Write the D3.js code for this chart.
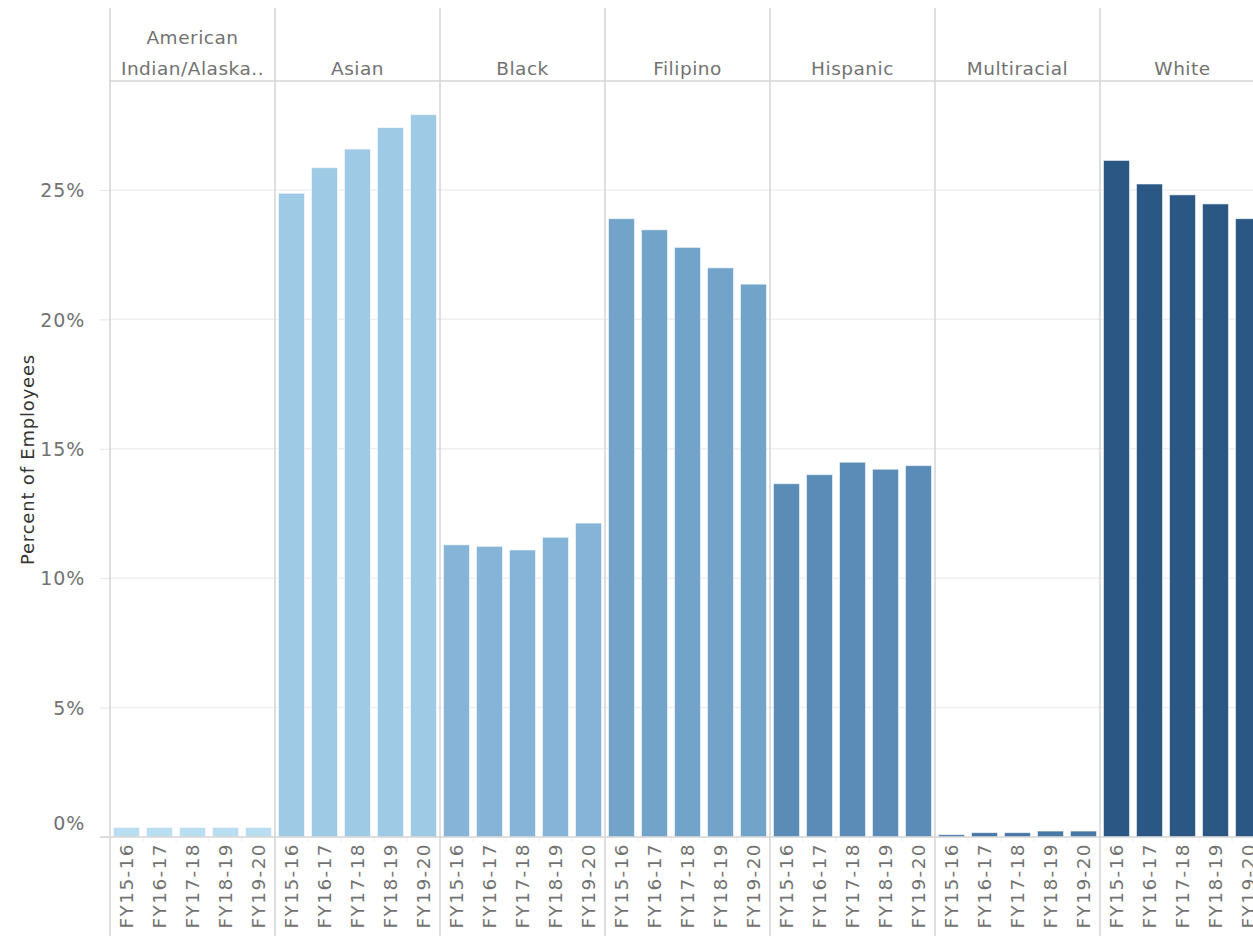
<!DOCTYPE html>
<html>
<head>
<meta charset="utf-8">
<script src="https://cdn.jsdelivr.net/npm/d3@7"></script>
<style>
	body { margin: 0; background: #fff; }
	svg { display: block; font-family: "DejaVu Sans", sans-serif; }
</style>
</head>
<body>
<svg width="1253" height="936"></svg>
<script>
// data (percent of employees)
const races = ["American Indian/Alaska..", "Asian", "Black", "Filipino", "Hispanic", "Multiracial", "White"];
const headerLines = [["American", "Indian/Alaska.."], ["Asian"], ["Black"], ["Filipino"], ["Hispanic"], ["Multiracial"], ["White"]];
const years = ["FY15-16", "FY16-17", "FY17-18", "FY18-19", "FY19-20"];

const americanIndian = [0.37, 0.37, 0.37, 0.37, 0.37];
const asian = [24.87, 25.86, 26.58, 27.41, 27.91];
const black = [11.29, 11.23, 11.09, 11.58, 12.13];
const filipino = [23.89, 23.46, 22.78, 21.99, 21.36];
const hispanic = [13.65, 14.0, 14.48, 14.21, 14.35];
const multiracial = [0.09, 0.17, 0.17, 0.23, 0.23];
const white = [26.14, 25.23, 24.81, 24.46, 23.89];

const yTicks = [0, 5, 10, 15, 20, 25];
const kleuren = ["#b9ddf1", "#9fcae6", "#85b4d8", "#72a3c8", "#5b8cb8", "#4878a6", "#2a5783"];

const series = [americanIndian, asian, black, filipino, hispanic, multiracial, white];

const svg = d3.select("svg");

const left = 110, panelW = 165;
const headerTop = 8, headerBottom = 81;
const plotTop = 82, plotBottom = 837;
const lijnKleur = "#d4d4d4";
const tekstKleur = "#727272";

const x0 = d3.scaleBand().domain(races).range([left, left + panelW * races.length]);
const x1 = d3.scaleBand().domain(years).range([0, panelW]).paddingInner(0.21).paddingOuter(0.105);
const y = d3.scaleLinear().domain([0, 29.17]).range([plotBottom, plotTop]);
const kleur = d3.scaleOrdinal().domain(races).range(kleuren);

// gridlines
svg.append("g")
	.selectAll("line")
	.data(yTicks.filter(t => t > 0))
	.join("line")
	.attr("x1", left)
	.attr("x2", 1253)
	.attr("y1", d => y(d))
	.attr("y2", d => y(d))
	.attr("stroke", "#efefef")
	.attr("stroke-width", 1.5);

// y axis
const gY = svg.append("g")
	.attr("transform", `translate(${left},0)`)
	.call(d3.axisLeft(y).tickValues(yTicks).tickFormat(d => d + "%").tickSize(10).tickPadding(15));
gY.select(".domain").remove();
gY.selectAll(".tick line").attr("stroke", "#e6e6e6");
gY.selectAll(".tick text")
	.attr("fill", tekstKleur)
	.attr("font-size", 19)
	.attr("letter-spacing", 0.8)
	.attr("font-family", "DejaVu Sans")
	.attr("dy", d => d === 0 ? "-0.4em" : "0.35em");

svg.append("text")
	.attr("transform", `translate(27,${(plotTop + plotBottom) / 2}) rotate(-90)`)
	.attr("text-anchor", "middle")
	.attr("dominant-baseline", "central")
	.attr("fill", "#333")
	.attr("font-size", 18)
	.attr("letter-spacing", 0.8)
	.text("Percent of Employees");

// bars per panel
const panels = svg.append("g")
	.selectAll("g")
	.data(races)
	.join("g")
	.attr("transform", d => `translate(${x0(d)},0)`);

panels.selectAll("rect")
	.data((d, i) => series[i].map((v, j) => ({ race: d, year: years[j], waarde: v })))
	.join("rect")
	.attr("x", d => x1(d.year))
	.attr("width", x1.bandwidth())
	.attr("y", d => y(d.waarde))
	.attr("height", d => y(0) - y(d.waarde))
	.attr("fill", d => kleur(d.race))
	.attr("stroke", "rgba(255,255,255,0.6)")
	.attr("stroke-width", 1);

// x labels (rotated)
panels.selectAll("text.jaar")
	.data(years)
	.join("text")
	.attr("class", "jaar")
	.attr("transform", d => `translate(${x1(d) + x1.bandwidth() / 2},${plotBottom + 6}) rotate(-90)`)
	.attr("text-anchor", "end")
	.attr("dominant-baseline", "central")
	.attr("fill", tekstKleur)
	.attr("font-size", 18.5)
	.attr("letter-spacing", 1.4)
	.text(d => d);

// small ticks between bars in the axis area
panels.selectAll("line.tick")
	.data(years.slice(1))
	.join("line")
	.attr("class", "tick")
	.attr("x1", d => x1(d) - x1.step() * x1.paddingInner() / 2)
	.attr("x2", d => x1(d) - x1.step() * x1.paddingInner() / 2)
	.attr("y1", plotBottom)
	.attr("y2", plotBottom + 5)
	.attr("stroke", "#eeeeee");

// headers
panels.selectAll("text.kop")
	.data((d, i) => headerLines[i].map((t, j, a) => ({ t, regel: j - a.length + 1 })))
	.join("text")
	.attr("class", "kop")
	.attr("x", panelW / 2)
	.attr("y", d => 68 + d.regel * 31)
	.attr("text-anchor", "middle")
	.attr("dominant-baseline", "central")
	.attr("fill", tekstKleur)
	.attr("font-size", 18.5)
	.attr("letter-spacing", 0.5)
	.text(d => d.t);

// frame lines
svg.append("line")
	.attr("x1", 100).attr("x2", 1253)
	.attr("y1", plotBottom).attr("y2", plotBottom)
	.attr("stroke", lijnKleur).attr("stroke-width", 1.5);

svg.append("line")
	.attr("x1", left).attr("x2", 1253)
	.attr("y1", headerBottom).attr("y2", headerBottom)
	.attr("stroke", lijnKleur).attr("stroke-width", 1.5);

svg.append("g")
	.selectAll("line")
	.data(races)
	.join("line")
	.attr("x1", d => x0(d))
	.attr("x2", d => x0(d))
	.attr("y1", headerTop)
	.attr("y2", 936)
	.attr("stroke", lijnKleur)
	.attr("stroke-width", 1.5);
</script>
</body>
</html>
